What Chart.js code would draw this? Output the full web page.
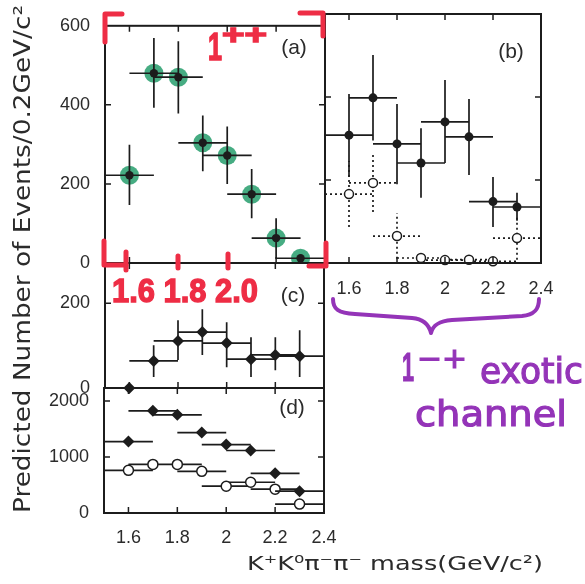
<!DOCTYPE html>
<html>
<head>
<meta charset="utf-8">
<script src="https://cdn.jsdelivr.net/npm/chart.js@4.4.1/dist/chart.umd.min.js"></script>
<style>
  body { margin: 0; background: #fff; }
  #wrap { position: relative; width: 585px; height: 584px; overflow: hidden; }
  #wrap canvas, #wrap svg { position: absolute; left: 0; top: 0; }
  svg text { font-family: "Liberation Sans", Arial, sans-serif; }
  svg text.title { font-family: "DejaVu Sans", sans-serif; }
  svg text.hand { font-family: "DejaVu Sans", sans-serif; }
  svg text.marker { font-family: "Liberation Sans", sans-serif; font-weight: bold; }
</style>
</head>
<body>
<div id="wrap">
  <canvas id="panelA" width="585" height="584"></canvas>
  <canvas id="panelB" width="585" height="584"></canvas>
  <canvas id="panelC" width="585" height="584"></canvas>
  <canvas id="panelD" width="585" height="584"></canvas>
  <svg width="585" height="584">
    <!-- axis titles -->
    <text class="title" transform="translate(30,259) rotate(-90)" text-anchor="middle" font-size="23" fill="#2b2b2b"
          textLength="508" lengthAdjust="spacingAndGlyphs">Predicted Number of Events/0.2GeV/c²</text>
    <text class="title" x="247" y="570" font-size="20" fill="#2b2b2b" textLength="296" lengthAdjust="spacingAndGlyphs">K⁺K⁰π⁻π⁻ mass(GeV/c²)</text>

    <!-- panel tags -->
    <text x="294" y="54" text-anchor="middle" font-size="21" fill="#2b2b2b">(a)</text>
    <text x="511" y="58" text-anchor="middle" font-size="21" fill="#2b2b2b">(b)</text>
    <text x="293" y="302" text-anchor="middle" font-size="21" fill="#2b2b2b">(c)</text>
    <text x="292" y="414" text-anchor="middle" font-size="21" fill="#2b2b2b">(d)</text>

    <!-- red marker notes on panel (a) -->
    <g stroke="#ee2d45" stroke-width="5" stroke-linecap="round" stroke-linejoin="round" fill="none">
      <path d="M105,42 V14 H122"/>
      <path d="M300,13 H323 V36"/>
      <path d="M104,241 V265 H126"/>
      <path d="M126,252 V270"/>
      <path d="M178,256 V268"/>
      <path d="M228,254 V268"/>
      <path d="M309,266 H326 V243"/>
    </g>
    <g fill="#ee2d45" stroke="#ee2d45" stroke-width="1.4">
      <text class="marker" x="208" y="60" font-size="38" textLength="14" lengthAdjust="spacingAndGlyphs">1</text>
      <text class="marker" x="222" y="44" font-size="28" textLength="45" lengthAdjust="spacingAndGlyphs">++</text>
      <text class="marker" x="112" y="302" font-size="34" textLength="146" lengthAdjust="spacingAndGlyphs">1.6 1.8 2.0</text>
    </g>

    <!-- purple note under panel (b) -->
    <path d="M333,299 C333,309 338,313 355,314 L412,318 C424,319 429,325 431,333 C433,325 439,321 452,320 L522,316 C534,315 539,310 539,299"
          stroke="#9434b8" stroke-width="4" fill="none" stroke-linecap="round" stroke-linejoin="round"/>
    <g fill="#9434b8" stroke="#9434b8" stroke-width="1.2">
      <text class="marker" x="402" y="381" font-size="40" font-weight="normal" textLength="12" lengthAdjust="spacingAndGlyphs">1</text>
      <text class="hand" x="417" y="368" font-size="28" textLength="50" lengthAdjust="spacingAndGlyphs">−+</text>
      <text class="hand" x="480" y="383" font-size="36" textLength="103" lengthAdjust="spacingAndGlyphs">exotic</text>
      <text class="hand" x="415" y="426" font-size="36" textLength="152" lengthAdjust="spacingAndGlyphs">channel</text>
    </g>
  </svg>
</div>
<script>
// mass bin centres (GeV/c^2), half width of the horizontal bars
const massBins = [1.6, 1.7, 1.8, 1.9, 2.0, 2.1, 2.2, 2.3];
const binHalf = 0.1;
const xTicks = [1.6, 1.8, 2.0, 2.2, 2.4];
const xTickLabels = ['1.6', '1.8', '2', '2.2', '2.4'];

// (a) 1++
const aEvents = [222, 480, 470, 304, 272, 174, 63, 12];
const aLow    = [147, 393, 378, 232, 200, 113, 10, 5];
const aHigh   = [299, 569, 561, 373, 345, 238, 113, 20];

// (b) 1-+ exotic, filled and open points
const bFilled     = [308, 398, 287, 241, 340, 304, 148, 135];
const bFilledLow  = [207, 295, 190, 157, 241, 212, 87, 102];
const bFilledHigh = [407, 501, 383, 325, 441, 395, 207, 169];
const bOpen     = [166, 193, 65, 12, 7, 8, 4, 60];
const bOpenLow  = [87, 123, 10, 0, 0, 0, 0, 8];
const bOpenHigh = [246, 262, 120, 22, 15, 16, 10, 115];

// (c)
const cEvents = [0, 64, 111, 132, 106, 68, 78, 75];
const cLow    = [null, 26, 66, 78, 49, 26, 42, 26];
const cHigh   = [null, 101, 160, 186, 155, 120, 120, 136];

// (d)
const dFilled = [1274, 1823, 1752, 1434, 1221, 1115, 708, 389];
const dOpen   = [761, 867, 867, 743, 478, 549, 425, 159];

const abYTicks = [0, 200, 400, 600];
const cYTicks = [0, 200];
const dYTicks = [0, 1000, 2000];

const ink = '#1c1c1c';
const tickFont = { family: 'Liberation Sans', size: 18 };

const pts = vals => massBins.map((x, i) => ({ x: x, y: vals[i] }));

// error bars under each dataset, frame with inward ticks on top
const panelPlugin = {
  id: 'panel',
  beforeDatasetDraw(chart, args) {
    const ds = chart.data.datasets[args.index];
    if (!ds.xHalf) return;
    const ctx = chart.ctx, xs = chart.scales.x, ys = chart.scales.y;
    ctx.save();
    ctx.strokeStyle = ink;
    ctx.lineWidth = 1.7;
    if (ds.dotted) ctx.setLineDash([2, 3]);
    ctx.beginPath();
    ds.data.forEach((p, i) => {
      const px = xs.getPixelForValue(p.x), py = ys.getPixelForValue(p.y);
      ctx.moveTo(xs.getPixelForValue(p.x - ds.xHalf), py);
      ctx.lineTo(xs.getPixelForValue(p.x + ds.xHalf), py);
      if (ds.errLow && ds.errLow[i] != null) {
        ctx.moveTo(px, ys.getPixelForValue(ds.errLow[i]));
        ctx.lineTo(px, ys.getPixelForValue(ds.errHigh[i]));
      }
    });
    ctx.stroke();
    ctx.restore();
  },
  afterDraw(chart) {
    const ctx = chart.ctx, a = chart.chartArea;
    const xs = chart.scales.x, ys = chart.scales.y;
    ctx.save();
    ctx.strokeStyle = ink;
    ctx.lineWidth = 2;
    ctx.strokeRect(a.left, a.top, a.width, a.height);
    ctx.lineWidth = 1.5;
    ctx.beginPath();
    xs.ticks.forEach(t => {
      const px = xs.getPixelForValue(t.value);
      if (px <= a.left + 2 || px >= a.right - 2) return;
      ctx.moveTo(px, a.bottom); ctx.lineTo(px, a.bottom - 6);
      ctx.moveTo(px, a.top); ctx.lineTo(px, a.top + 6);
    });
    ys.ticks.forEach(t => {
      const py = ys.getPixelForValue(t.value);
      if (py <= a.top + 2 || py >= a.bottom - 2) return;
      ctx.moveTo(a.left, py); ctx.lineTo(a.left + 6, py);
      ctx.moveTo(a.right, py); ctx.lineTo(a.right - 6, py);
    });
    ctx.stroke();
    ctx.restore();
  }
};

function panel(id, o) {
  return new Chart(document.getElementById(id), {
    type: 'scatter',
    data: { datasets: o.datasets },
    options: {
      responsive: false,
      animation: false,
      devicePixelRatio: 1,
      layout: { padding: o.padding },
      plugins: { legend: { display: false }, tooltip: { enabled: false } },
      scales: {
        x: {
          type: 'linear', min: 1.5, max: 2.4,
          grid: { display: false, drawTicks: false },
          border: { display: false },
          afterBuildTicks: s => { s.ticks = xTicks.map(v => ({ value: v })); },
          afterFit: s => { s.height = o.xHeight; },
          ticks: {
            display: o.xLabels, autoSkip: false, maxRotation: 0,
            padding: o.xPad || 12, font: tickFont, color: '#2b2b2b',
            callback: (v, i) => xTickLabels[i]
          }
        },
        y: {
          type: 'linear', min: 0, max: o.yMax,
          grid: { display: false, drawTicks: false },
          border: { display: false },
          afterBuildTicks: s => { s.ticks = o.yTicks.map(v => ({ value: v })); },
          afterFit: s => { s.width = o.yWidth; },
          ticks: {
            display: o.yLabels, autoSkip: false,
            padding: 15, font: tickFont, color: '#2b2b2b',
            callback: v => String(v)
          }
        }
      }
    },
    plugins: [panelPlugin]
  });
}

panel('panelA', {
  padding: { left: 45, right: 260, top: 14, bottom: 321 },
  xHeight: 0, yWidth: 60, xLabels: false, yLabels: true,
  yMax: 600, yTicks: abYTicks,
  datasets: [
    { data: pts(aEvents), pointRadius: 9.5, backgroundColor: 'rgba(38,158,108,0.85)', borderWidth: 0, order: 2 },
    { data: pts(aEvents), pointRadius: 4.2, backgroundColor: ink, borderWidth: 0, order: 1,
      xHalf: binHalf, errLow: aLow, errHigh: aHigh, clip: false }
  ]
});

panel('panelB', {
  padding: { left: 325, right: 44, top: 14, bottom: 281 },
  xHeight: 40, yWidth: 0, xLabels: true, yLabels: false, xPad: 15,
  yMax: 600, yTicks: abYTicks,
  datasets: [
    { data: pts(bOpen), pointRadius: 4.5, backgroundColor: '#fff', borderColor: ink, borderWidth: 1.5,
      order: 2, xHalf: binHalf, errLow: bOpenLow, errHigh: bOpenHigh, dotted: true, clip: false },
    { data: pts(bFilled), pointRadius: 4.5, backgroundColor: ink, borderWidth: 0,
      order: 1, xHalf: binHalf, errLow: bFilledLow, errHigh: bFilledHigh, clip: false }
  ]
});

panel('panelC', {
  padding: { left: 45, right: 261, top: 263, bottom: 196 },
  xHeight: 0, yWidth: 60, xLabels: false, yLabels: true,
  yMax: 295, yTicks: cYTicks,
  datasets: [
    { data: pts(cEvents), pointStyle: 'rectRot', pointRadius: 6, backgroundColor: ink, borderWidth: 0,
      xHalf: binHalf, errLow: cLow, errHigh: cHigh, clip: false }
  ]
});

panel('panelD', {
  padding: { left: 44, right: 261, top: 388, bottom: 31 },
  xHeight: 40, yWidth: 60, xLabels: true, yLabels: true, xPad: 14,
  yMax: 2230, yTicks: dYTicks,
  datasets: [
    { data: pts(dOpen), pointRadius: 5, backgroundColor: '#fff', borderColor: ink, borderWidth: 1.5,
      order: 2, xHalf: binHalf, clip: false },
    { data: pts(dFilled), pointStyle: 'rectRot', pointRadius: 6, backgroundColor: ink, borderWidth: 0,
      order: 1, xHalf: binHalf, clip: false }
  ]
});
</script>
</body>
</html>
